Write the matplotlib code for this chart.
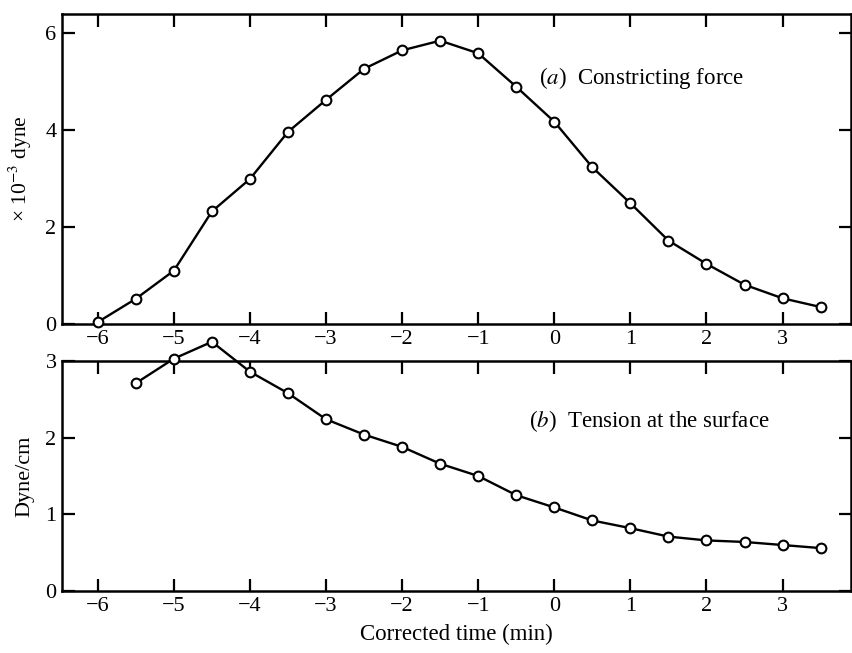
import matplotlib.pyplot as plt
import numpy as np

plt.rcParams['font.family'] = ['Liberation Serif', 'DejaVu Serif']
plt.rcParams['mathtext.fontset'] = 'stix'

time = [-6, -5.5, -5, -4.5, -4, -3.5, -3, -2.5, -2, -1.5,
        -1, -0.5, 0, 0.5, 1, 1.5, 2, 2.5, 3, 3.5]
force = [0.04, 0.52, 1.10, 2.32, 2.99, 3.96, 4.62, 5.26, 5.64, 5.84,
         5.58, 4.89, 4.17, 3.23, 2.49, 1.72, 1.24, 0.81, 0.53, 0.35]

time_b = time[1:]
tension = [2.71, 3.03, 3.25, 2.86, 2.58, 2.24, 2.04, 1.88, 1.66, 1.50,
           1.25, 1.09, 0.92, 0.82, 0.71, 0.66, 0.64, 0.60, 0.56]

xticks = [-6, -5, -4, -3, -2, -1, 0, 1, 2, 3]
xlabels = ['\u2212' + str(-t) if t < 0 else str(t) for t in xticks]

fig = plt.figure(figsize=(8.53, 6.53), dpi=100)
ax1 = fig.add_axes([0.0727, 0.5038, 0.925, 0.4748])
ax2 = fig.add_axes([0.0727, 0.0949, 0.925, 0.3523])

for ax in (ax1, ax2):
    ax.set_xlim(-6.47, 3.9)
    ax.set_xticks(xticks)
    ax.set_xticklabels(xlabels)
    ax.tick_params(direction='in', length=9, width=1.6, labelsize=16,
                   top=True, right=True, pad=4)
    for s in ax.spines.values():
        s.set_linewidth(1.8)

ax1.plot(time, force, color='black', lw=1.7, marker='o', ms=7,
         mfc='white', mec='black', mew=1.5, clip_on=False, zorder=5)
ax1.set_ylim(0, 6.39)
ax1.set_yticks([0, 2, 4, 6])
ax1.set_ylabel('\u00d7 10$^{-3}$ dyne', fontsize=15.5, labelpad=8)
ax1.text(-0.2, 5.07, r'($\mathit{a}$)  Constricting force', fontsize=16.5,
         va='center')

ax2.plot(time_b, tension, color='black', lw=1.7, marker='o', ms=7,
         mfc='white', mec='black', mew=1.5, clip_on=False, zorder=5)
ax2.set_ylim(0, 3)
ax2.set_yticks([0, 1, 2, 3])
ax2.set_ylabel('Dyne/cm', fontsize=16, labelpad=8)
ax2.set_xlabel('Corrected time (min)', fontsize=16.5, labelpad=6)
ax2.text(-0.33, 2.22, r'($\mathit{b}$)  Tension at the surface', fontsize=16.5,
         va='center')

fig.savefig('out.png', dpi=100)
